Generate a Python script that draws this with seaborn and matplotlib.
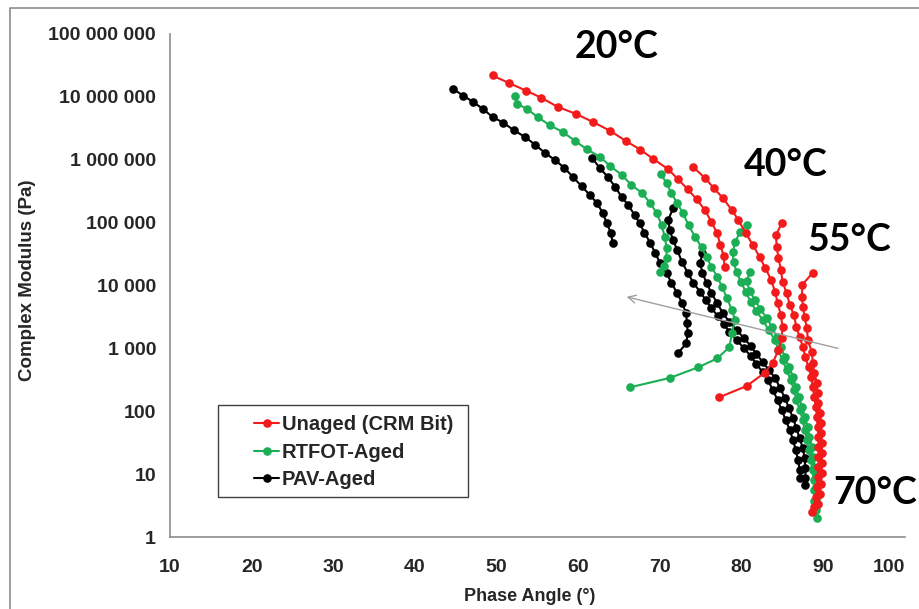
import numpy as np
import pandas as pd
import matplotlib
matplotlib.use("Agg")
import matplotlib.pyplot as plt
import seaborn as sns
from matplotlib.lines import Line2D
from matplotlib.patches import Rectangle
from matplotlib.ticker import FuncFormatter, NullLocator

# ---------------- data (phase angle in degrees, log10 of complex modulus in Pa) ----------------
series_names = ["Unaged (CRM Bit)", "RTFOT-Aged", "PAV-Aged"]
series_colors = ["#F21A1A", "#1BAE55", "#000000"]
temperature_labels = ["20°C", "40°C", "55°C", "70°C"]

unaged_20_phase = [49.5, 51.5, 53.6, 55.4, 57.5, 59.7, 61.8, 63.9, 65.8, 67.6, 69.2, 71.0, 72.2, 73.4, 74.5, 75.5, 76.3, 77.0, 77.4, 77.8, 77.9]
unaged_20_logG = [7.34, 7.22, 7.10, 6.99, 6.84, 6.73, 6.60, 6.46, 6.30, 6.16, 6.01, 5.85, 5.69, 5.53, 5.37, 5.20, 5.01, 4.83, 4.64, 4.47, 4.30]
unaged_40_phase = [74.1, 75.5, 76.6, 77.7, 78.8, 79.6, 80.5, 81.4, 82.2, 82.9, 83.6, 84.1, 84.4, 84.8, 85.0, 84.9, 84.5, 83.8, 82.8, 80.6, 77.2]
unaged_40_logG = [5.88, 5.71, 5.55, 5.39, 5.20, 5.04, 4.83, 4.64, 4.45, 4.28, 4.09, 3.90, 3.72, 3.53, 3.34, 3.17, 2.97, 2.77, 2.61, 2.40, 2.22]
unaged_55_phase = [84.9, 84.2, 84.3, 84.5, 84.8, 85.0, 85.5, 85.9, 86.4, 86.7, 87.1, 87.5, 87.8, 88.2, 88.5, 88.7, 88.9, 89.1, 89.2, 89.3, 89.4, 89.4, 89.4, 89.4, 89.3, 89.2, 89.1, 88.8, 88.6]
unaged_55_logG = [4.99, 4.80, 4.61, 4.44, 4.25, 4.06, 3.88, 3.69, 3.53, 3.34, 3.18, 3.02, 2.86, 2.70, 2.55, 2.39, 2.23, 2.07, 1.91, 1.75, 1.59, 1.43, 1.27, 1.11, 0.95, 0.79, 0.63, 0.47, 0.39]
unaged_70_phase = [88.7, 87.4, 87.4, 87.5, 87.7, 88.0, 88.1, 88.6, 88.7, 88.9, 89.2, 89.3, 89.4, 89.6, 89.7, 89.7, 89.8, 89.8, 89.8, 89.8, 89.7, 89.6, 89.3]
unaged_70_logG = [4.20, 4.01, 3.82, 3.66, 3.50, 3.32, 3.13, 2.94, 2.77, 2.61, 2.45, 2.29, 2.13, 1.97, 1.81, 1.65, 1.49, 1.33, 1.17, 1.01, 0.85, 0.69, 0.53]

rtfot_20_phase = [52.2, 52.5, 53.7, 55.0, 56.5, 58.1, 59.6, 61.0, 62.6, 63.9, 65.3, 66.5, 67.8, 68.8, 69.6, 70.2, 70.6, 70.8, 70.8, 70.5, 70.0]
rtfot_20_logG = [7.02, 6.89, 6.81, 6.68, 6.55, 6.44, 6.30, 6.17, 6.05, 5.90, 5.76, 5.60, 5.47, 5.31, 5.15, 4.96, 4.77, 4.60, 4.44, 4.31, 4.21]
rtfot_40_phase = [70.1, 70.8, 71.4, 72.1, 72.8, 73.5, 74.3, 75.1, 75.7, 76.3, 77.0, 77.6, 78.2, 78.8, 79.2, 78.8, 78.5, 77.0, 74.7, 71.2, 66.3]
rtfot_40_logG = [5.77, 5.63, 5.47, 5.31, 5.15, 4.96, 4.77, 4.61, 4.45, 4.30, 4.14, 3.98, 3.80, 3.61, 3.45, 3.24, 3.02, 2.84, 2.70, 2.53, 2.38]
rtfot_55_phase = [80.6, 79.8, 79.2, 78.9, 79.0, 79.4, 79.9, 80.5, 81.1, 81.8, 82.6, 83.3, 84.1, 84.5, 85.0, 85.5, 86.0, 86.4, 86.7, 87.1, 87.5, 87.7, 88.0, 88.2, 88.5, 88.7, 88.8, 88.9, 88.9, 89.1, 89.2]
rtfot_55_logG = [4.96, 4.85, 4.69, 4.53, 4.37, 4.21, 4.06, 3.90, 3.74, 3.59, 3.45, 3.29, 3.13, 2.97, 2.81, 2.66, 2.50, 2.34, 2.18, 2.02, 1.86, 1.70, 1.54, 1.38, 1.22, 1.06, 0.90, 0.74, 0.58, 0.43, 0.30]
rtfot_70_phase = [81.0, 80.6, 81.0, 81.6, 82.3, 83.1, 83.7, 84.3, 84.8, 85.3, 85.8, 86.3, 86.6, 87.0, 87.4, 87.7, 88.1, 88.3, 88.6, 88.7, 88.9, 89.1, 89.1, 89.2, 89.1]
rtfot_70_logG = [4.21, 4.07, 3.91, 3.77, 3.62, 3.48, 3.34, 3.18, 3.02, 2.86, 2.70, 2.55, 2.39, 2.23, 2.07, 1.91, 1.75, 1.59, 1.43, 1.27, 1.11, 0.95, 0.79, 0.63, 0.50]

pav_20_phase = [44.6, 45.9, 47.1, 48.3, 49.5, 50.8, 52.1, 53.5, 54.7, 55.9, 57.1, 58.3, 59.3, 60.4, 61.4, 62.3, 63.0, 63.5, 64.0, 64.2]
pav_20_logG = [7.13, 7.02, 6.92, 6.81, 6.68, 6.59, 6.47, 6.36, 6.24, 6.11, 6.00, 5.87, 5.73, 5.58, 5.44, 5.31, 5.15, 4.99, 4.83, 4.68]
pav_40_phase = [61.7, 62.6, 63.6, 64.5, 65.3, 66.1, 66.9, 67.5, 68.1, 68.8, 69.4, 70.0, 70.8, 71.4, 72.1, 72.7, 73.2, 73.3, 73.4, 73.2, 72.2]
pav_40_logG = [6.03, 5.87, 5.73, 5.57, 5.41, 5.28, 5.12, 4.99, 4.84, 4.68, 4.52, 4.36, 4.20, 4.04, 3.88, 3.72, 3.56, 3.40, 3.24, 3.08, 2.92]
pav_55_phase = [71.6, 71.0, 71.2, 71.6, 72.1, 72.7, 73.4, 74.1, 74.9, 75.6, 76.3, 77.1, 77.8, 78.5, 79.4, 80.3, 81.1, 81.8, 82.6, 83.2, 83.8, 84.4, 84.9, 85.4, 85.9, 86.3, 86.6, 86.9, 87.1, 87.2]
pav_55_logG = [5.23, 5.04, 4.88, 4.72, 4.57, 4.37, 4.20, 4.04, 3.90, 3.77, 3.64, 3.51, 3.39, 3.26, 3.13, 3.00, 2.88, 2.75, 2.62, 2.50, 2.34, 2.18, 2.02, 1.86, 1.70, 1.54, 1.39, 1.23, 1.07, 0.94]
pav_70_phase = [75.2, 74.9, 75.2, 75.7, 76.3, 77.0, 77.7, 78.5, 79.4, 80.3, 81.1, 81.8, 82.6, 83.3, 84.1, 84.7, 85.3, 85.8, 86.3, 86.7, 87.1, 87.5, 87.7, 87.8, 87.8, 87.8]
pav_70_logG = [4.51, 4.36, 4.20, 4.04, 3.88, 3.72, 3.56, 3.42, 3.29, 3.16, 3.04, 2.91, 2.78, 2.66, 2.53, 2.37, 2.21, 2.05, 1.89, 1.73, 1.57, 1.41, 1.25, 1.09, 0.94, 0.82]

# temperature label positions (phase, log10 G*) and trend arrow (from, to)
label_phase = [64.7, 85.4, 93.2, 96.3]
label_logG = [7.80, 5.92, 4.72, 0.70]
arrow_phase = [91.8, 65.9]
arrow_logG = [3.00, 3.82]

x_ticks = [10, 20, 30, 40, 50, 60, 70, 80, 90, 100]
y_ticks = [1, 10, 100, 1000, 10000, 100000, 1000000, 10000000, 100000000]

segments = {
    series_names[0]: [(unaged_20_phase, unaged_20_logG), (unaged_40_phase, unaged_40_logG),
                      (unaged_55_phase, unaged_55_logG), (unaged_70_phase, unaged_70_logG)],
    series_names[1]: [(rtfot_20_phase, rtfot_20_logG), (rtfot_40_phase, rtfot_40_logG),
                      (rtfot_55_phase, rtfot_55_logG), (rtfot_70_phase, rtfot_70_logG)],
    series_names[2]: [(pav_20_phase, pav_20_logG), (pav_40_phase, pav_40_logG),
                      (pav_55_phase, pav_55_logG), (pav_70_phase, pav_70_logG)],
}

rows = []
for name, segs in segments.items():
    for k, (ph, lg) in enumerate(segs):
        for i, (p, g) in enumerate(zip(ph, lg)):
            rows.append({"phase": p, "G": 10 ** g, "material": name,
                         "seg": f"{name}_{k}", "order": i})
df = pd.DataFrame(rows)

# ---------------- plot ----------------
sns.set_style("white")
plt.rcParams["font.family"] = ["Liberation Sans", "DejaVu Sans"]

fig = plt.figure(figsize=(9.19, 6.09), dpi=100)
ax = fig.add_axes([170 / 919, 1 - 537 / 609, 735 / 919, 503 / 609])
ax.set_yscale("log")

MS = 6.2
LW = 1.5
palette = dict(zip(series_names, series_colors))
# draw PAV first, then RTFOT, then Unaged on top
for name in series_names[::-1]:
    sub = df[df["material"] == name]
    sns.lineplot(data=sub, x="phase", y="G", hue="material", units="seg",
                 estimator=None, sort=False, palette=palette, legend=False,
                 marker="o", markersize=MS, markeredgewidth=0, linewidth=LW, ax=ax)

ax.set_xlim(10, 100)
ax.set_ylim(1, 1e8)
ax.set_xticks(x_ticks)
ax.set_yticks(y_ticks)
ax.yaxis.set_minor_locator(NullLocator())
ax.yaxis.set_major_formatter(FuncFormatter(lambda v, p: f"{int(round(v)):,}".replace(",", " ")))
ax.xaxis.set_major_formatter(FuncFormatter(lambda v, p: f"{int(round(v))}"))

for s in ["top", "right"]:
    ax.spines[s].set_visible(False)
for s in ["left", "bottom"]:
    ax.spines[s].set_color("#8C8C8C")
    ax.spines[s].set_linewidth(1.2)
ax.tick_params(axis="both", which="major", direction="out", length=5, width=1.0,
               color="#8C8C8C", labelsize=14)
ax.tick_params(axis="x", pad=11)
ax.tick_params(axis="y", pad=5)
for lab in ax.get_xticklabels() + ax.get_yticklabels():
    lab.set_fontweight("bold")
ax.get_xticklabels()[-1].set_horizontalalignment("right")
ax.get_xticklabels()[-1].set_x(100)

ax.set_xlabel("Phase Angle (°)", fontsize=13, fontweight="bold")
ax.set_ylabel("Complex Modulus (Pa)", fontsize=13.5, fontweight="bold")
ax.xaxis.set_label_coords((530 - 170) / 735, -(588 - 537) / 503)
ax.yaxis.set_label_coords(-(170 - 36) / 735, (537 - 280) / 503)

# temperature labels
for t, px, pg in zip(temperature_labels, label_phase, label_logG):
    ax.text(px, 10 ** pg, t, fontsize=27, fontweight="bold", ha="center", va="center",
            family=["Lato", "DejaVu Sans"], color="black")

# trend arrow
ax.annotate("", xy=(arrow_phase[1], 10 ** arrow_logG[1]),
            xytext=(arrow_phase[0], 10 ** arrow_logG[0]),
            arrowprops=dict(arrowstyle="->", color="#A0A0A0", lw=1.0,
                            mutation_scale=14, shrinkA=0, shrinkB=0))

# legend
handles = [Line2D([0], [0], color=c, marker="o", markersize=MS, markeredgewidth=0, lw=LW)
           for c in series_colors]
leg = ax.legend(handles, series_names, loc="upper left", bbox_to_anchor=(0.101, 0.262),
                frameon=False, borderpad=0, handlelength=1.25, handletextpad=0.12,
                labelspacing=0.42, prop={"weight": "bold", "size": 14.5})
ax.add_patch(Rectangle((48 / 735, 40 / 503), 250 / 735, 92 / 503, transform=ax.transAxes,
                       fill=False, edgecolor="#404040", linewidth=1.0, clip_on=False))

# chart border (top and left edges visible)
fig.add_artist(Line2D([10 / 919, 10 / 919, 1.0], [0.0, 1 - 8 / 609, 1 - 8 / 609],
                      transform=fig.transFigure, color="#8C8C8C", linewidth=1.2))

fig.savefig("out.png", dpi=100)
